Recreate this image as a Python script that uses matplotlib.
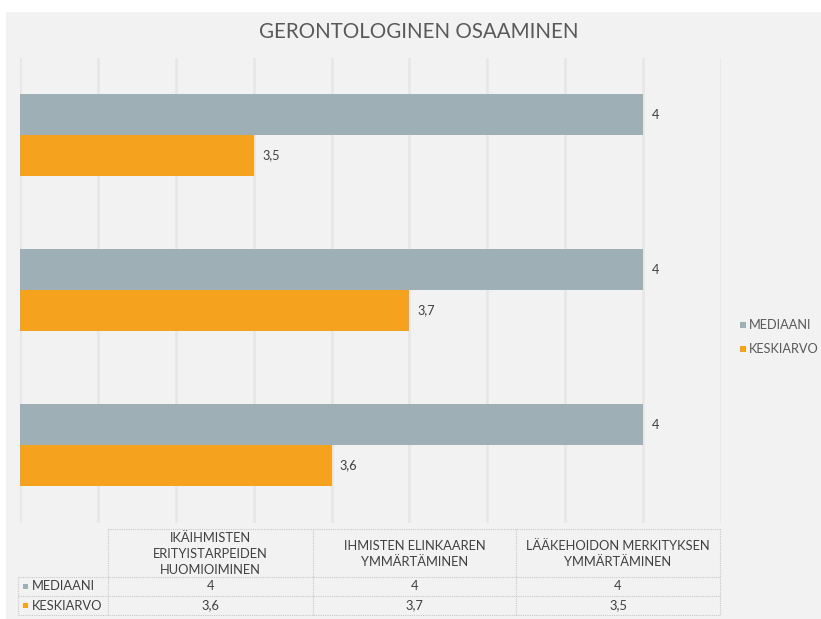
import matplotlib
matplotlib.use("Agg")
import matplotlib.pyplot as plt
from matplotlib.patches import Rectangle
import numpy as np

plt.rcParams['font.family'] = ['Lato', 'DejaVu Sans']

# ---- data ----
title = "GERONTOLOGINEN OSAAMINEN"
categories = ["IKÄIHMISTEN\nERITYISTARPEIDEN\nHUOMIOIMINEN",
              "IHMISTEN ELINKAAREN\nYMMÄRTÄMINEN",
              "LÄÄKEHOIDON MERKITYKSEN\nYMMÄRTÄMINEN"]
series_names = ["MEDIAANI", "KESKIARVO"]
mediaani = [4, 4, 4]
keskiarvo = [3.6, 3.7, 3.5]
series_values = [mediaani, keskiarvo]
colors = ["#9eb0b5", "#f5a31e"]
x_min, x_max, x_step = 3.2, 4.1, 0.1

W, H = 821, 619
fig = plt.figure(figsize=(W / 100, H / 100), dpi=100, facecolor="white")

def fx(x):
    return x / W

def fy(y):
    return 1 - y / H

# chart background
fig.patches.append(Rectangle((fx(6), 0), 1 - fx(6), fy(12), transform=fig.transFigure,
                             facecolor="#f2f2f2", edgecolor="none", zorder=-5))

fig.text(fx(419), fy(32), title, ha="center", va="center", fontsize=14.8, color="#595959")

def fmt(v):
    s = f"{v:g}"
    return s.replace(".", ",")

# ---- bar axes ----
left, right, top, bottom = 20, 721, 57.5, 522.5
ax = fig.add_axes([fx(left), fy(bottom), fx(right) - fx(left), fy(top) - fy(bottom)])
ax.set_facecolor("none")
ax.set_zorder(2)
n = len(categories)
ypos = np.arange(n)
h = 0.262
offsets = [h / 2, -h / 2]
for vals, off, col in zip(series_values, offsets, colors):
    ax.barh(ypos + off, np.array(vals) - x_min, left=x_min, height=h, color=col, zorder=2)
    for yy, v in zip(ypos + off, vals):
        ax.annotate(fmt(v), (v, yy), xytext=(6, 0), textcoords="offset points",
                    ha="left", va="center", fontsize=9.2, color="#404040")
ax.set_xlim(x_min, x_max)
ax.set_ylim(-0.5, n - 0.5)
for gx in np.arange(x_min, x_max + 1e-9, x_step):
    ax.axvline(gx, color="#e6e6e6", lw=1.8, zorder=1)
for s in ax.spines.values():
    s.set_visible(False)
ax.set_xticks([])
ax.set_yticks([])

# ---- data table ----
tc = "#c8c8c8"
col_edges = [108, 313, 516, 720]
row_lines = [577, 596, 615]
head_top = 529
label_left = 18
fs = 9.3

def hline(y, x0, x1):
    fig.add_artist(plt.Line2D([fx(x0), fx(x1)], [fy(y), fy(y)], transform=fig.transFigure,
                              color=tc, lw=0.8, linestyle=(0, (1, 1))))

def vline(x, y0, y1):
    fig.add_artist(plt.Line2D([fx(x), fx(x)], [fy(y0), fy(y1)], transform=fig.transFigure,
                              color=tc, lw=0.8, linestyle=(0, (1, 1))))

hline(head_top, col_edges[0], col_edges[-1])
for y in row_lines:
    hline(y, label_left, col_edges[-1])
for x in col_edges:
    vline(x, head_top, row_lines[-1])
vline(label_left, row_lines[0], row_lines[-1])

for i, cat in enumerate(categories):
    cx = (col_edges[i] + col_edges[i + 1]) / 2
    fig.text(fx(cx), fy((head_top + row_lines[0]) / 2 + 1), cat, ha="center", va="center",
             fontsize=fs, color="#404040", linespacing=1.45)

for r, (name, vals, col) in enumerate(zip(series_names, series_values, colors)):
    cy = (row_lines[r] + row_lines[r + 1]) / 2
    fig.patches.append(Rectangle((fx(23), fy(cy + 2.5)), fx(5), 5 / H, transform=fig.transFigure,
                                 facecolor=col, edgecolor="none"))
    fig.text(fx(32), fy(cy), name, ha="left", va="center", fontsize=fs, color="#404040")
    for i, v in enumerate(vals):
        cx = (col_edges[i] + col_edges[i + 1]) / 2
        fig.text(fx(cx), fy(cy), fmt(v), ha="center", va="center", fontsize=fs, color="#404040")

# ---- legend ----
for name, col, ly in zip(series_names, colors, [325, 349]):
    fig.patches.append(Rectangle((fx(740), fy(ly + 3)), fx(6), 6 / H, transform=fig.transFigure,
                                 facecolor=col, edgecolor="none"))
    fig.text(fx(749), fy(ly), name, ha="left", va="center", fontsize=9.2, color="#595959")

fig.savefig("out.png", dpi=100, facecolor="white")
